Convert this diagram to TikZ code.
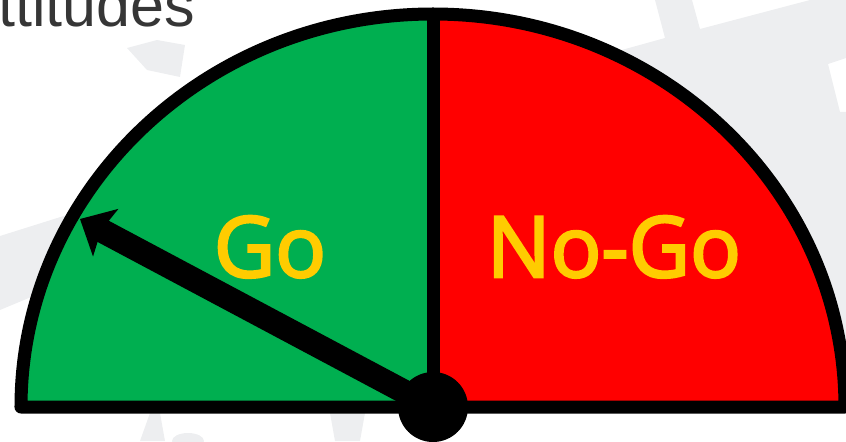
\documentclass[tikz,border=0pt]{standalone}
\usepackage{fontspec}
\setmainfont{Open Sans}
\newfontfamily\gaugefont{Open Sans}[FakeBold=3]
\newfontfamily\titlefont{Liberation Sans}
\usetikzlibrary{arrows.meta}
\definecolor{gogreen}{HTML}{00AF50}
\definecolor{nogored}{HTML}{FF0000}
\definecolor{labelgold}{HTML}{FFCC00}
\definecolor{wmgray}{HTML}{EDEEF0}
\definecolor{titlegray}{HTML}{363636}
\tikzset{
  rim/.style={draw=black, line width=0.325cm, line join=round},
  zone/.style={font=\gaugefont\fontsize{60}{60}\selectfont, text=labelgold,
               inner sep=0pt, anchor=base},
  needle/.style={-{Stealth[length=0.72cm, width=1.32cm, inset=0.12cm]},
                 line width=0.6cm, draw=black},
  hubdot/.style={circle, fill=black, inner sep=0pt, minimum size=1.75cm},
  wm/.style={fill=wmgray, draw=none},
}

\begin{document}
\begin{tikzpicture}[x=0.025cm, y=0.025cm]
  \useasboundingbox (-433,-34) rectangle (413,407);
  % faint background marks
  \fill[wm] (-306,359) -- (-276,367) -- (-248,362) -- (-253,330) -- (-286,337) -- cycle;
  \fill[wm] (-433,171) -- (-363,193) -- (-373,122) -- (-433,97) -- cycle;
  \fill[wm] (167,351) -- (232,369) -- (222,407) -- (259,407) -- (267,378) -- (377,407)
    -- (413,407) -- (413,349) -- (395,343) -- (407,295) -- (413,295) -- (413,0) -- (167,0) -- cycle;
  \fill[wm] (-293,-34) -- (-283,-6) -- (-273,-6) -- (-268,-34) -- cycle;
  \fill[wm] (-103,-6) -- (-68,-6) -- (-73,-34) -- (-98,-34) -- cycle;
  \fill[wm] (-245,-34) ellipse[x radius=16, y radius=8];
  % title, cut at the edge
  \node[font=\titlefont\fontsize{43.4}{43.4}\selectfont, text=titlegray,
        inner sep=0pt, anchor=base west] (title) at (-435,380) {ttitudes};
  % gauge halves
  \coordinate (pivot) at (0,0);
  \fill[gogreen] (pivot) -- (-412,0) arc[start angle=180, end angle=90, x radius=412, y radius=393] -- cycle;
  \fill[nogored] (pivot) -- (0,393) arc[start angle=90, end angle=0, x radius=412, y radius=393] -- cycle;
  \draw[rim] (-412,0) arc[start angle=180, end angle=0, x radius=412, y radius=393] -- cycle;
  \draw[rim] (pivot) -- (0,393);
  \node[zone] (go) at (-163,130) {Go};
  \node[zone] (nogo) at (181,130) {No-Go};
  % pointer
  \coordinate (tip) at (-353,188);
  \draw[needle] (pivot) -- (tip);
  \node[hubdot] (hub) at (pivot) {};
\end{tikzpicture}
\end{document}
